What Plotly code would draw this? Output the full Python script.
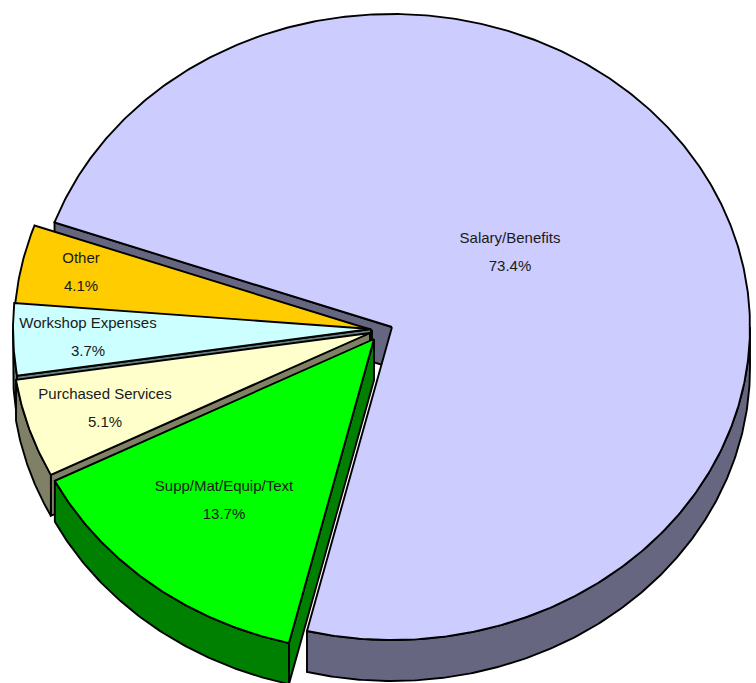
import numpy as np
import plotly.graph_objects as go

# Data (clockwise from the start angle)
categories = ["Salary/Benefits", "Supp/Mat/Equip/Text", "Purchased Services", "Workshop Expenses", "Other"]
percent = [73.4, 13.7, 5.1, 3.7, 4.1]

# Style / layout
face_colors = ["#CCCCFF", "#00FF00", "#FFFFCC", "#CCFFFF", "#FFCC00"]
side_colors = ["#666680", "#008000", "#808066", "#668080", "#806600"]
apex_x = [392, 374, 370, 371, 372]
apex_y = [327, 339, 333, 329, 330]
label_x = [510, 224, 105, 88, 81]
label_y = [239, 487, 395, 324, 259]
draw_order = [0, 4, 3, 2, 1]
label_gap = 28
start_angle = -70.5  # clockwise from 12 o'clock, on the tilted ellipse
rx, ry, depth = 358.0, 313.0, 41.0

W, H = 756, 683


def rim(cx, cy, a0, a1, dy=0.0):
    t = np.radians(np.linspace(a0, a1, max(2, int(abs(a1 - a0) * 2) + 2)))
    return cx + rx * np.sin(t), cy + dy - ry * np.cos(t)


def poly(fig, xs, ys, fill, name):
    fig.add_trace(go.Scatter(
        x=np.r_[xs, xs[0]], y=np.r_[ys, ys[0]], mode="lines", fill="toself",
        fillcolor=fill, line=dict(color="#000000", width=1.9), name=name,
        hoverinfo="name", showlegend=False))


spans = []
a = start_angle
for p in percent:
    spans.append((a, a + p * 3.6))
    a += p * 3.6

fig = go.Figure()
for i in draw_order:
    name, fc, sc, cx, cy = categories[i], face_colors[i], side_colors[i], apex_x[i], apex_y[i]
    a0, a1 = spans[i]
    # radial walls, only where the downward extrusion falls outside the slice
    for ang, inner in ((a0, a0 + 1), (a1, a1 - 1)):
        ex, ey = rim(cx, cy, ang, ang)
        ex, ey = ex[0], ey[0]
        ix, iy = rim(cx, cy, inner, inner)
        side_in = (ex - cx) * (iy[0] - cy) - (ey - cy) * (ix[0] - cx)
        side_down = (ex - cx) * depth
        if side_in * side_down < 0:
            poly(fig, np.array([cx, ex, ex, cx]), np.array([cy, ey, ey + depth, cy + depth]), sc, name)
    # outer wall (front half of the ellipse only)
    for k in range(-1, 2):
        lo, hi = max(a0, 90 + 360 * k), min(a1, 270 + 360 * k)
        if hi > lo:
            tx, ty = rim(cx, cy, lo, hi)
            bx, by = rim(cx, cy, hi, lo, depth)
            poly(fig, np.r_[tx, bx], np.r_[ty, by], sc, name)
    # top face
    fx, fy = rim(cx, cy, a0, a1)
    poly(fig, np.r_[cx, fx], np.r_[cy, fy], fc, name)

txt_x, txt_y, txt = [], [], []
for name, p, lx, ly in zip(categories, percent, label_x, label_y):
    txt_x += [lx, lx]
    txt_y += [ly, ly + label_gap]
    txt += [name, f"{p:.1f}%"]
fig.add_trace(go.Scatter(x=txt_x, y=txt_y, mode="text", text=txt, textposition="middle center",
                         textfont=dict(family="Liberation Sans", size=15, color="#1a1a1a"),
                         hoverinfo="skip", showlegend=False))

fig.update_layout(
    width=W, height=H, margin=dict(l=0, r=0, t=0, b=0),
    paper_bgcolor="white", plot_bgcolor="white",
    xaxis=dict(range=[0, W], visible=False, fixedrange=True),
    yaxis=dict(range=[H, 0], visible=False, fixedrange=True),
)
fig.write_html("out.html", config={"displayModeBar": False},
               post_script="document.body.style.margin='0';")
